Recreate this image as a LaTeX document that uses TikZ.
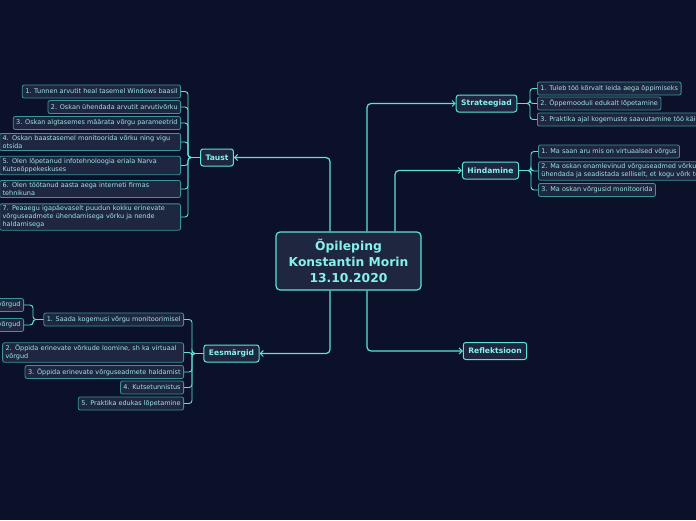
\documentclass[tikz,border=0pt]{standalone}
\usepackage{fontspec}
\setmainfont{DejaVu Sans}
\usetikzlibrary{arrows.meta}
\definecolor{bg}{HTML}{0B1129}
\definecolor{nfill}{HTML}{1E2640}
\definecolor{aqua}{HTML}{5EE3D8}
\definecolor{aquatext}{HTML}{86F2EA}
\definecolor{subborder}{HTML}{3C9399}
\definecolor{subtext}{HTML}{A0E6E3}
\tikzset{
  central/.style={draw=aqua, fill=nfill, line width=1.2pt, rounded corners=4pt,
    text=aquatext, font=\fontsize{12.3}{16}\selectfont\bfseries, align=center,
    minimum width=145pt, minimum height=58pt, inner sep=2pt},
  topic/.style={draw=aqua, fill=nfill, line width=1pt, rounded corners=2.5pt,
    text=aquatext, font=\fontsize{7.6}{9}\selectfont\bfseries,
    minimum height=17pt, inner xsep=5pt, inner ysep=2pt},
  sub/.style={draw=subborder, fill=nfill, line width=0.8pt, rounded corners=2pt,
    text=subtext, font=\fontsize{6.5}{8}\selectfont,
    minimum height=13pt, inner xsep=3pt, inner ysep=2pt, align=left},
  conn/.style={draw=aqua, line width=1.2pt, rounded corners=4pt,
    -{Straight Barb[length=3pt,width=6pt,line width=1pt]}},
  brk/.style={draw=aqua, line width=0.9pt, rounded corners=3pt},
}
\begin{document}
\begin{tikzpicture}[x=1pt,y=-1pt]
\fill[bg] (0,0) rectangle (696,520);
\clip (0,0) rectangle (696,520);

% central
\node[central] (c) at (348.5,261) {Õpileping\\Konstantin Morin\\13.10.2020};

% topics
\node[topic] (taust) at (217,157.5) {Taust};
\node[topic] (strat) at (486.5,103.5) {Strateegiad};
\node[topic] (hind) at (490.5,170.5) {Hindamine};
\node[topic] (eesm) at (231.5,353.5) {Eesmärgid};
\node[topic] (refl) at (495,351) {Reflektsioon};

% connectors from central
\draw[conn] (330,0 |- c.north) |- (taust.east);
\draw[conn] (367,0 |- c.north) |- (strat.west);
\draw[conn] (395,0 |- c.north) |- (hind.west);
\draw[conn] (330,0 |- c.south) |- (eesm.east);
\draw[conn] (367,0 |- c.south) |- (refl.west);

% Taust children
\node[sub, anchor=east] (t1) at (181,91.5) {1. Tunnen arvutit heal tasemel Windows baasil};
\node[sub, anchor=east] (t2) at (181,107) {2. Oskan ühendada arvutit arvutivõrku};
\node[sub, anchor=east] (t3) at (181,123) {3. Oskan algtasemes määrata võrgu parameetrid};
\node[sub, anchor=east, text width=175pt] (t4) at (181,142) {4. Oskan baastasemel monitoorida võrku ning vigu\\otsida};
\node[sub, anchor=east, text width=175pt] (t5) at (181,165.5) {5. Olen lõpetanud infotehnoloogia eriala Narva\\Kutseõppekeskuses};
\node[sub, anchor=east, text width=175pt] (t6) at (181,189) {6. Olen töötanud aasta aega interneti firmas\\tehnikuna};
\node[sub, anchor=east, text width=175pt] (t7) at (181,217) {7. Peaaegu igapäevaselt puudun kokku erinevate\\võrguseadmete ühendamisega võrku ja nende\\haldamisega};
\foreach \n in {t1,t2,t3,t4,t5,t6,t7}
  \draw[brk] (taust.west) -- (188,0 |- taust.west) |- (\n.east);

% Strateegiad children
\node[sub, anchor=west] (s1) at (537,88.5) {1. Tuleb töö kõrvalt leida aega õppimiseks};
\node[sub, anchor=west] (s2) at (537,103.5) {2. Õppemooduli edukalt lõpetamine};
\node[sub, anchor=west] (s3) at (537,119.5) {3. Praktika ajal kogemuste saavutamine töö käigus};
\foreach \n in {s1,s2,s3}
  \draw[brk] (strat.east) -- (530,0 |- strat.east) |- (\n.west);

% Hindamine children
\node[sub, anchor=west] (h1) at (538,151.5) {1. Ma saan aru mis on virtuaalsed võrgus};
\node[sub, anchor=west] (h2) at (538,171) {2. Ma oskan enamlevinud võrguseadmed võrku\\ühendada ja seadistada selliselt, et kogu võrk töötaks};
\node[sub, anchor=west] (h3) at (538,190) {3. Ma oskan võrgusid monitoorida};
\foreach \n in {h1,h2,h3}
  \draw[brk] (hind.east) -- (531,0 |- hind.east) |- (\n.west);

% Eesmärgid children
\node[sub, anchor=east] (e1) at (184,319.5) {1. Saada kogemusi võrgu monitoorimisel};
\node[sub, anchor=east, text width=175pt] (e2) at (184,352.5) {2. Õppida erinevate võrkude loomine, sh ka virtuaal\\võrgud};
\node[sub, anchor=east] (e3) at (184,372) {3. Õppida erinevate võrguseadmete haldamist};
\node[sub, anchor=east] (e4) at (184,387.5) {4. Kutsetunnistus};
\node[sub, anchor=east] (e5) at (184,403.5) {5. Praktika edukas lõpetamine};
\foreach \n in {e1,e2,e3,e4,e5}
  \draw[brk] (eesm.west) -- (192,0 |- eesm.west) |- (\n.east);

% grandchildren of e1
\node[sub, anchor=east] (v1) at (24,305) {Virtuaalsed võrgud};
\node[sub, anchor=east] (v2) at (24,325) {Füüsilised võrgud};
\foreach \n in {v1,v2}
  \draw[brk] (e1.west) -- (33,0 |- e1.west) |- (\n.east);
\end{tikzpicture}
\end{document}
